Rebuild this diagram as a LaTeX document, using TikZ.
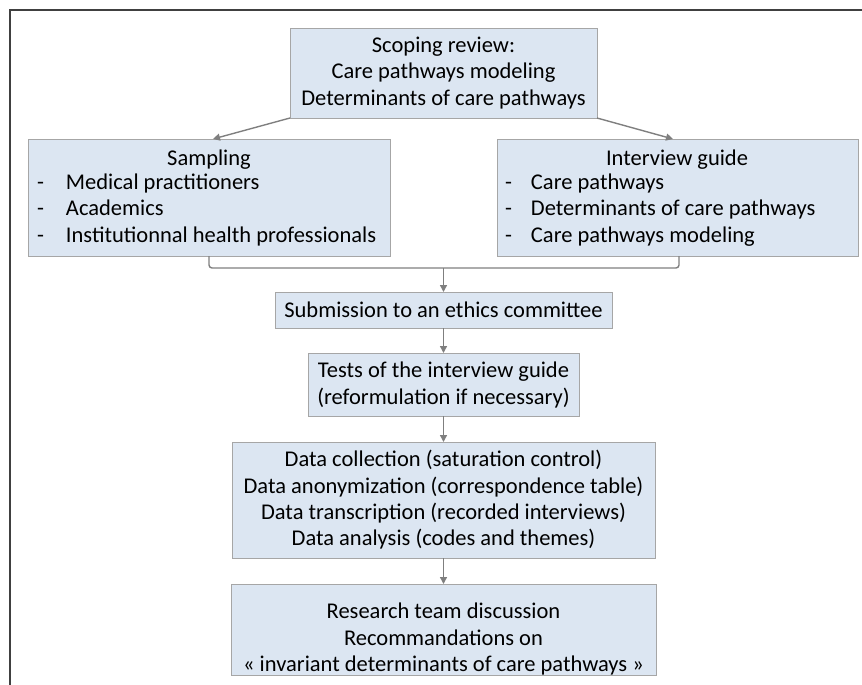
\documentclass[tikz,border=0pt]{standalone}
\usepackage{fontspec}
\setmainfont{Carlito}
\usetikzlibrary{arrows.meta}
\definecolor{boxfill}{HTML}{DCE6F2}
\definecolor{boxline}{HTML}{A6A6A6}
\definecolor{arrowc}{HTML}{7F7F7F}
\definecolor{framec}{HTML}{404040}
\tikzset{
  box/.style={draw=boxline, fill=boxfill, line width=0.9pt, inner sep=0pt, outer sep=0pt},
  txt/.style={inner sep=0pt, outer sep=0pt, font=\fontsize{22.5}{26.3}\selectfont, align=center},
  conn/.style={draw=arrowc, line width=1.4pt},
  arr/.style={conn, -{Triangle[length=7pt,width=7pt]}},
  framel/.style={draw=framec, line width=2pt}
}
\newcommand{\mkbox}[5]{\node[box, minimum width=#4-#2, minimum height=#5-#3, anchor=north west] (#1) at (#2,#3) {};}
\begin{document}
\begin{tikzpicture}[x=1pt,y=-1pt]
\useasboundingbox (0,0) rectangle (862,685);
\coordinate (fA) at (9.5,685);
\coordinate (fB) at (9.5,10);
\coordinate (fC) at (862,10);
\draw[framel] (fA) -- (fB) -- (fC);

\mkbox{scope}{290}{28}{597}{118}
\mkbox{samp}{28}{139}{390}{256}
\mkbox{guide}{497}{139}{858}{256}
\mkbox{sub}{275}{292}{612}{328}
\mkbox{tests}{308}{353}{579}{416}
\mkbox{data}{232}{442}{655}{558}
\mkbox{res}{231}{584}{656}{675}

\node[txt] (tscope) at (443.5,73) {Scoping review:\\Care pathways modeling\\Determinants of care pathways};
\node[txt, anchor=base] (tsamp) at (209,165.5) {Sampling};
\node[txt, anchor=north west, align=left] (lsamp) at (37,171) {%
\begin{tabular}{@{}p{29pt}@{}l@{}}
-&Medical practitioners\\
-&Academics\\
-&Institutionnal health professionals
\end{tabular}};
\node[txt, anchor=base] (tguide) at (677,165.5) {Interview guide};
\node[txt, anchor=north west, align=left] (lguide) at (505,171) {%
\begin{tabular}{@{}p{26pt}@{}l@{}}
-&Care pathways\\
-&Determinants of care pathways\\
-&Care pathways modeling
\end{tabular}};
\node[txt] (tsub) at (443.5,310) {Submission to an ethics committee};
\node[txt] (ttests) at (443.5,385) {Tests of the interview guide\\(reformulation if necessary)};
\node[txt] (tdata) at (443.5,500) {Data collection (saturation control)\\Data anonymization (correspondence table)\\Data transcription (recorded interviews)\\Data analysis (codes and themes)};
\node[txt] (tres) at (443.5,639) {Research team discussion\\Recommandations on\\« invariant determinants of care pathways »};

\draw[arr] (scope.south west) -- (samp.north west -| 213,0);
\draw[arr] (scope.south east) -- (guide.north west -| 673,0);

\coordinate (bl) at (209,268);
\coordinate (br) at (679,268);
\coordinate (bm) at (443.5,268);
\draw[conn, rounded corners=3pt] (samp.south -| bl) -- (bl) -- (br) -- (guide.south -| br);
\draw[arr] (bm) -- (sub.north);
\draw[arr] (sub.south) -- (tests.north);
\draw[arr] (tests.south) -- (data.north);
\draw[arr] (data.south) -- (res.north);
\end{tikzpicture}
\end{document}
